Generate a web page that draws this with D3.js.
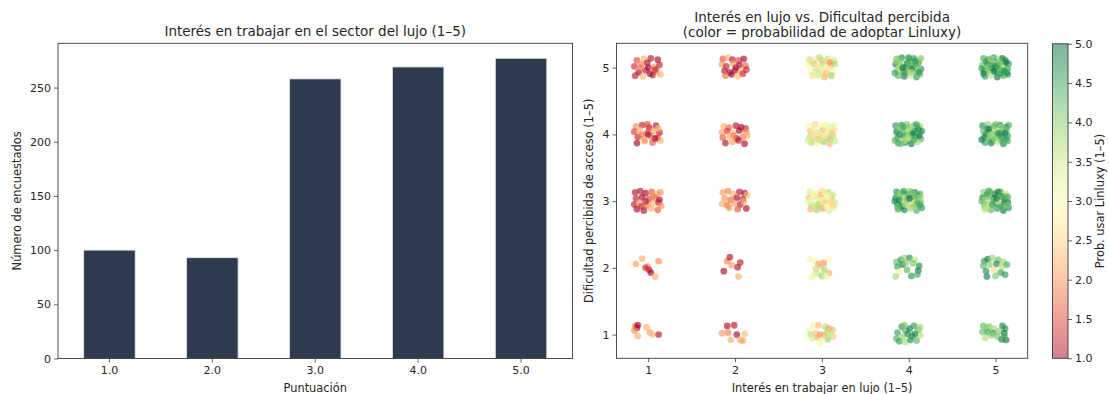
<!DOCTYPE html>
<html>
<head>
<meta charset="utf-8">
<script src="https://cdn.jsdelivr.net/npm/d3@7"></script>
<style>
  html, body { margin: 0; padding: 0; background: #fff; }
  svg { display: block; font-family: "DejaVu Sans", sans-serif; }
</style>
</head>
<body>
<svg id="chart" width="1109" height="394"></svg>
<script>
// Bar chart: respondents per interest score
const puntuaciones = ["1.0", "2.0", "3.0", "4.0", "5.0"];
const encuestados = [100, 93, 258, 269, 277];
const yTicksBar = [0, 50, 100, 150, 200, 250];

// Scatter: [interés (jittered), dificultad (jittered), probabilidad Linluxy]
const puntosInteres1 = [
  [.87,5.11,1.5],[.95,5.13,2.2],[1.03,5.14,1.1],[1.11,5.12,1.0],[.84,5.02,1.3],[.92,5.05,1.9],[.99,5.07,1.0],[1.07,5.01,2.0],[1.13,5.04,1.2],[.89,4.93,1.0],[.97,4.96,1.1],[1.02,4.91,1.0],[1.10,4.94,2.1],[.85,4.88,1.2],[.94,4.87,2.3],[1.05,4.89,1.1],[1.14,4.90,2.2],[1.00,5.00,1.0],[.91,5.00,1.8],[1.08,4.97,1.2],
  [.86,4.12,2.0],[.93,4.14,1.2],[1.01,4.10,1.0],[1.09,4.13,1.1],[.84,4.04,1.4],[.90,4.06,2.2],[.98,4.02,1.7],[1.06,4.05,2.1],[1.13,4.03,1.1],[.88,3.96,1.2],[.95,3.93,2.3],[1.03,3.97,1.9],[1.11,3.95,1.4],[.87,3.87,1.0],[.96,3.90,2.0],[1.05,3.88,1.6],[1.14,3.91,2.2],[1.00,4.00,1.0],[.92,3.99,1.8],[1.08,3.94,1.0],[.99,4.15,1.5],[1.12,4.09,2.3],
  [.85,3.13,1.1],[.91,3.15,1.1],[.97,3.12,1.0],[1.04,3.14,1.6],[1.10,3.11,2.2],[1.14,3.13,2.0],[.86,3.04,1.2],[.93,3.06,1.0],[1.01,3.03,1.4],[1.08,3.05,1.7],[1.13,3.02,1.0],[.84,2.95,1.1],[.90,2.97,2.1],[.99,2.94,1.8],[1.06,2.96,2.3],[1.12,2.98,1.2],[.87,2.88,1.0],[.95,2.86,1.0],[1.03,2.89,2.2],[1.11,2.87,1.6],[.97,3.00,1.1],[1.05,3.08,1.9],[.92,2.92,1.3],[1.15,2.93,2.0],
  [.86,2.06,2.1],[.93,2.14,2.2],[.99,2.02,1.9],[1.01,1.97,1.1],[1.03,1.93,1.0],[1.12,2.10,2.0],[1.08,1.87,2.2],[.97,2.00,1.3],
  [.85,1.13,1.9],[.87,1.10,1.0],[.88,1.14,1.0],[.98,1.11,2.2],[.88,0.98,2.2],[1.02,1.03,2.1],[1.05,1.00,2.3],[1.12,1.00,1.1],[.84,1.06,2.0]
];
const puntosInteres2 = [
  [1.86,5.13,1.6],[1.92,5.15,2.2],[1.97,5.12,1.1],[2.04,5.11,1.5],[2.10,5.13,1.0],[1.85,5.05,2.0],[1.90,5.02,1.2],[1.98,5.06,2.1],[2.05,5.04,1.0],[2.12,5.03,1.7],[1.88,4.95,1.1],[1.94,4.93,1.0],[2.00,4.96,1.0],[2.07,4.94,2.2],[2.13,4.97,1.2],[1.89,4.88,1.8],[1.96,4.90,1.0],[2.03,4.87,2.3],[2.09,4.91,1.3],[2.01,5.00,1.1],
  [1.87,4.12,2.2],[1.93,4.10,1.7],[2.01,4.13,1.1],[2.07,4.11,1.0],[2.12,4.09,1.2],[1.85,4.03,2.1],[1.91,4.05,1.4],[1.99,4.02,2.3],[2.05,4.06,1.0],[2.13,4.03,2.0],[1.86,3.95,1.6],[1.94,3.97,2.2],[2.02,3.94,1.0],[2.09,3.96,1.8],[1.89,3.87,1.1],[1.97,3.89,2.1],[2.04,3.91,1.2],[2.11,3.86,1.0],[2.14,3.98,2.2],[1.98,3.99,1.9],
  [1.86,3.13,2.1],[1.92,3.15,1.9],[1.98,3.11,2.2],[2.05,3.14,1.1],[2.11,3.12,1.0],[2.14,3.09,2.3],[1.88,3.04,2.0],[1.95,3.02,1.7],[2.02,3.05,1.0],[2.09,3.03,1.2],[1.85,2.96,2.2],[1.91,2.94,1.8],[1.99,2.97,2.1],[2.06,2.95,1.1],[2.13,2.89,1.0],[1.93,2.90,2.0],[2.03,2.88,1.6],[2.10,2.99,2.2],
  [1.91,2.10,1.9],[1.94,2.16,1.1],[1.96,2.04,2.1],[2.06,2.08,1.2],[1.87,1.95,1.0],[2.03,2.01,1.1],[2.04,1.87,2.2],
  [1.91,1.13,1.0],[1.99,1.14,1.1],[1.85,1.02,2.1],[1.95,0.92,2.2],[2.02,1.00,1.0],[2.06,0.92,2.2],[2.11,1.01,2.3],[2.09,0.91,2.1],[1.92,1.03,1.9]
];
const puntosInteres3 = [
  [2.86,5.12,2.4],[2.93,5.14,3.0],[3.00,5.11,2.2],[3.07,5.13,3.6],[3.13,5.10,3.9],[2.85,5.04,3.1],[2.91,5.06,2.1],[2.98,5.02,2.7],[3.04,5.05,3.3],[3.10,5.03,2.3],[3.15,5.06,3.7],[2.87,4.95,2.9],[2.94,4.97,3.8],[3.01,4.93,2.5],[3.08,4.96,3.4],[3.14,4.94,3.0],[2.89,4.88,2.6],[2.96,4.89,3.5],[3.03,4.86,2.2],[3.11,4.88,3.9],[2.99,5.00,3.2],[3.06,4.99,2.8],[2.92,4.91,3.3],[3.12,5.14,2.9],[2.97,5.15,3.7],[3.05,4.91,2.4],[2.88,5.09,3.4],[3.09,5.08,2.0],[3.01,5.07,3.6],[2.95,5.02,2.8],
  [2.85,4.13,3.0],[2.92,4.15,2.5],[2.99,4.12,3.1],[3.06,4.14,2.9],[3.12,4.11,3.4],[2.87,4.05,2.3],[2.94,4.03,3.5],[3.01,4.06,2.2],[3.08,4.04,3.0],[3.14,4.07,2.6],[2.86,3.96,3.7],[2.93,3.94,2.4],[3.00,3.97,3.3],[3.07,3.95,2.1],[3.13,3.98,3.6],[2.88,3.88,3.8],[2.95,3.87,2.9],[3.02,3.89,3.9],[3.09,3.86,2.3],[3.15,3.90,3.5],[2.97,4.01,2.7],[3.04,3.99,3.2],[2.90,4.09,2.8],[3.11,4.02,2.4],[2.96,3.92,3.6],[3.05,4.09,3.3],[2.89,3.99,2.6],[3.10,3.93,3.7],[3.03,4.15,3.0],[2.84,3.91,3.4],[3.14,4.14,3.1],[2.98,3.95,2.5],
  [2.86,3.14,3.4],[2.93,3.12,3.0],[3.00,3.15,2.6],[3.07,3.13,3.8],[3.13,3.11,2.9],[2.85,3.05,2.3],[2.91,3.07,3.6],[2.98,3.04,2.5],[3.05,3.06,3.1],[3.11,3.03,2.2],[2.88,2.96,3.7],[2.95,2.94,2.4],[3.02,2.97,3.3],[3.09,2.95,2.7],[3.15,2.98,3.5],[2.87,2.88,2.2],[2.94,2.87,3.9],[3.01,2.89,2.1],[3.08,2.86,3.4],[3.14,2.90,2.8],[2.97,3.01,3.2],[3.04,2.99,2.4],[2.90,3.10,2.9],[3.12,3.08,3.6],[2.99,3.10,2.3],[3.06,2.92,3.0],[2.92,2.92,3.5],[3.10,2.99,2.6],[2.84,3.00,3.3],[3.03,3.14,2.8],[2.96,2.95,3.7],[3.13,2.94,2.5],[2.89,3.02,3.1],[3.07,3.07,2.9],
  [2.86,2.13,3.1],[2.92,2.10,3.0],[3.08,2.13,3.0],[2.96,2.06,2.1],[3.02,2.07,2.0],[2.99,2.03,2.3],[2.93,1.98,3.6],[3.03,1.97,3.8],[3.08,1.92,2.2],[2.95,1.92,3.5],[3.00,1.88,3.9],[2.91,1.89,3.3],[3.05,1.87,3.1],[2.88,1.86,3.0],
  [2.85,1.05,3.1],[2.90,1.13,2.9],[2.96,1.14,2.3],[3.04,1.12,3.7],[3.08,1.09,2.1],[3.12,1.07,2.2],[2.87,1.00,3.6],[2.93,1.02,2.4],[2.98,1.00,2.0],[3.02,0.99,2.2],[3.06,1.03,3.8],[3.13,0.97,2.4],[2.89,0.94,3.4],[2.95,0.96,2.2],[3.00,0.91,3.1],[3.07,0.93,3.9],[2.97,0.88,3.0],[3.10,1.01,3.5]
];
const puntosInteres4 = [
  [3.86,5.13,4.2],[3.92,5.15,4.7],[3.99,5.12,3.9],[4.06,5.14,4.5],[4.12,5.11,3.7],[3.85,5.05,4.8],[3.91,5.03,3.6],[3.98,5.06,4.9],[4.05,5.04,4.1],[4.11,5.07,4.6],[3.87,4.96,4.0],[3.94,4.94,4.8],[4.01,4.97,3.8],[4.08,4.95,4.4],[4.14,4.98,4.7],[3.88,4.88,4.3],[3.95,4.87,4.9],[4.02,4.89,3.6],[4.09,4.86,4.6],[4.13,4.90,4.2],[3.97,5.01,4.5],[4.04,4.99,5.0],[3.90,5.09,4.1],[4.10,5.02,3.9],[3.96,4.92,4.4],[4.07,5.10,4.8],[3.89,4.99,3.7],[4.12,4.93,4.6],[4.01,5.08,4.3],[3.84,4.92,4.5],[4.14,5.14,4.0],[3.93,5.00,4.9],[4.03,4.93,3.8],[4.00,5.15,4.7],[3.86,5.10,3.9],[4.08,5.05,4.4],
  [3.85,4.13,4.6],[3.92,4.14,4.8],[3.99,4.11,3.8],[4.06,4.13,4.2],[4.13,4.12,3.9],[3.86,4.04,4.9],[3.93,4.06,4.4],[4.00,4.03,3.7],[4.07,4.05,4.7],[4.13,4.02,4.1],[3.87,3.95,4.5],[3.94,3.97,4.9],[4.01,3.94,3.9],[4.08,3.96,4.6],[4.14,3.93,4.3],[3.88,3.87,4.7],[3.96,3.88,4.8],[4.03,3.86,4.9],[4.10,3.89,3.8],[3.97,4.00,4.2],[4.04,3.99,4.5],[3.90,4.09,4.0],[4.11,4.08,4.8],[3.95,3.91,3.6],[4.06,3.92,4.4],[3.89,4.00,4.6],[4.12,3.98,4.9],[4.02,4.08,3.9],[3.84,3.91,4.3],[4.15,4.05,4.7],[3.98,4.15,4.1],[4.09,4.15,4.5],[3.91,3.86,4.2],[4.05,4.02,4.8],[3.99,3.95,3.7],[3.94,4.11,4.4],
  [3.86,3.14,4.7],[3.93,3.12,4.2],[4.00,3.15,3.8],[4.07,3.13,4.9],[4.13,3.11,4.4],[3.85,3.05,4.8],[3.91,3.07,3.9],[3.98,3.04,2.3],[4.05,3.06,4.6],[4.12,3.03,4.0],[3.87,2.96,4.9],[3.94,2.94,4.3],[4.01,2.97,3.7],[4.08,2.95,4.7],[4.14,2.98,4.1],[3.88,2.88,4.5],[3.95,2.87,4.8],[4.02,2.89,3.9],[4.09,2.86,4.4],[4.15,2.90,4.6],[3.97,3.01,4.2],[4.04,2.99,2.5],[3.90,3.10,4.0],[4.11,3.08,4.8],[3.99,3.10,4.5],[4.06,2.92,3.8],[3.92,2.92,4.9],[4.10,2.99,4.3],[3.84,3.00,4.7],[4.03,3.14,4.1],[3.96,2.95,3.6],[4.13,2.94,4.5],[3.89,3.02,4.8],[4.07,3.07,4.0],[3.94,3.15,4.6],[4.01,3.04,4.9],[4.14,3.06,3.7],[3.87,2.91,4.2],
  [3.86,2.09,4.2],[3.91,2.12,4.6],[3.95,2.15,3.9],[4.01,2.15,4.7],[4.07,2.12,3.6],[3.87,2.02,4.5],[3.93,2.05,4.8],[4.05,2.07,4.1],[4.12,2.03,4.7],[3.89,1.94,2.8],[3.98,1.97,4.3],[4.11,1.96,4.9],[3.85,1.87,3.8],[4.03,1.88,4.6],[4.10,1.90,4.4],[3.97,2.08,4.0],
  [3.87,1.03,4.5],[3.92,1.12,4.7],[3.96,1.06,4.3],[4.01,1.09,4.9],[4.06,1.13,4.6],[4.11,1.07,4.2],[3.86,0.94,4.4],[3.93,0.97,3.9],[3.99,1.01,4.8],[4.04,0.98,4.6],[4.13,0.99,3.7],[3.89,0.90,4.5],[3.96,0.89,3.8],[4.02,0.92,4.7],[4.09,0.91,4.3],[4.13,1.11,3.9],[3.95,1.14,4.1],[4.07,1.01,4.8]
];
const puntosInteres5 = [
  [4.86,5.14,4.4],[4.92,5.12,4.9],[4.98,5.15,4.6],[5.05,5.13,3.8],[5.11,5.11,4.7],[4.85,5.04,4.2],[4.91,5.06,4.8],[4.97,5.03,5.0],[5.04,5.05,4.5],[5.10,5.02,3.9],[5.15,5.06,4.6],[4.87,4.95,4.9],[4.93,4.97,4.1],[5.00,4.94,4.7],[5.07,4.96,4.4],[5.13,4.93,4.8],[4.88,4.87,4.6],[4.95,4.89,3.7],[5.02,4.86,4.9],[5.09,4.88,4.3],[5.14,4.90,4.7],[4.96,5.00,4.8],[5.03,4.99,4.2],[4.89,5.09,4.5],[5.12,5.08,4.9],[4.99,5.09,4.3],[5.06,4.91,4.6],[4.90,4.93,4.0],[5.08,5.14,4.8],[4.84,4.99,4.5],[5.01,5.02,4.7],[4.94,5.13,3.9],[5.14,4.98,4.4],[4.86,4.91,4.8],[5.05,5.08,4.1],[4.98,4.95,4.9],[5.10,4.95,4.6],[4.92,5.01,4.2],
  [4.85,4.13,4.7],[4.91,4.15,3.9],[4.98,4.12,4.5],[5.05,4.14,4.8],[5.12,4.11,4.9],[4.86,4.05,4.3],[4.93,4.03,4.6],[5.00,4.06,3.8],[5.07,4.04,4.7],[5.13,4.07,4.2],[4.87,3.96,4.8],[4.94,3.94,4.4],[5.01,3.97,4.0],[5.08,3.95,4.9],[5.14,3.98,4.5],[4.88,3.88,4.6],[4.95,3.87,4.9],[5.02,3.89,3.7],[5.09,3.86,4.8],[5.14,3.90,4.3],[4.97,4.00,4.1],[5.04,3.99,4.7],[4.90,4.09,4.4],[5.11,4.02,4.9],[4.96,3.91,4.5],[5.06,4.10,3.9],[4.89,4.00,4.7],[5.12,3.93,4.6],[5.00,4.15,4.2],[4.84,3.92,4.8],[5.15,4.14,4.4],[4.99,3.94,4.0],[4.92,4.08,4.9],[5.07,3.91,4.3],[5.03,4.02,4.6],[4.94,3.99,3.8],
  [4.86,3.13,4.0],[4.92,3.15,4.6],[4.99,3.12,3.8],[5.06,3.14,4.3],[5.12,3.11,2.4],[4.85,3.05,4.8],[4.91,3.07,4.2],[4.98,3.04,4.9],[5.05,3.06,3.9],[5.11,3.03,4.7],[4.87,2.96,4.4],[4.94,2.94,3.7],[5.01,2.97,4.8],[5.08,2.95,4.5],[5.14,2.98,4.9],[4.88,2.88,3.8],[4.95,2.87,4.3],[5.02,2.89,4.6],[5.09,2.86,4.9],[5.15,2.90,4.7],[4.97,3.01,4.1],[5.04,2.99,2.6],[4.90,3.10,4.5],[5.11,3.08,4.0],[4.99,3.10,4.8],[5.06,2.92,4.4],[4.92,2.92,3.6],[5.10,2.99,4.7],[4.84,3.00,4.2],[5.03,3.14,4.9],[4.96,2.95,4.5],[5.13,2.94,4.1],[4.89,3.02,3.9],[5.07,3.07,4.6],[4.94,3.14,4.3],[5.01,3.04,4.8],[5.14,3.06,4.4],[4.87,2.91,3.7],
  [4.87,2.10,4.6],[4.91,2.13,4.9],[4.96,2.15,3.9],[5.03,2.12,4.2],[5.09,2.09,3.8],[4.86,2.03,4.3],[4.93,2.05,4.0],[5.01,2.06,4.8],[5.07,2.02,3.7],[5.13,2.05,4.4],[4.89,1.95,4.7],[4.98,1.97,2.5],[5.06,1.93,4.5],[5.11,1.90,4.6],[4.90,1.87,4.8],[5.00,1.88,4.1],
  [4.86,1.13,4.3],[4.89,1.11,3.9],[4.93,1.12,4.0],[4.98,1.09,3.8],[5.08,1.13,4.8],[5.11,1.09,4.7],[4.85,1.04,4.2],[4.91,1.04,4.5],[4.97,1.02,4.6],[5.04,1.05,4.0],[5.10,1.02,4.9],[4.88,0.95,3.7],[5.02,0.97,4.1],[5.07,0.93,4.8],[5.12,0.92,4.9],[5.10,0.98,4.4],[4.95,0.99,3.9]
];
const ticksInteres = [1, 2, 3, 4, 5];
const ticksDificultad = [1, 2, 3, 4, 5];
const ticksProb = [1.0, 1.5, 2.0, 2.5, 3.0, 3.5, 4.0, 4.5, 5.0];

const svg = d3.select("#chart");
const ink = "#262626";
const spine = "#3a3a3a";
const fsTick = 11, fsLabel = 11.4, fsTitle = 13.5;

function styleAxis(g) {
  g.select(".domain").remove();
  g.selectAll(".tick line").attr("stroke", spine).attr("stroke-width", 0.8);
  g.selectAll(".tick text").attr("font-size", fsTick).attr("fill", ink)
    .attr("font-family", "DejaVu Sans, sans-serif");
}
function frame(x0, y0, x1, y1) {
  svg.append("rect").attr("x", x0).attr("y", y0).attr("width", x1 - x0).attr("height", y1 - y0)
    .attr("fill", "none").attr("stroke", spine).attr("stroke-width", 0.9);
}

// ---------- Left panel: bars ----------
const L = { x0: 58, x1: 572.5, y0: 43.3, y1: 358.5 };
const xBar = d3.scaleBand().domain(puntuaciones).range([L.x0, L.x1]).paddingInner(0.5).paddingOuter(0.25);
const yBar = d3.scaleLinear().domain([0, d3.max(encuestados) * 1.05]).range([L.y1, L.y0]);

svg.append("g").selectAll("rect").data(puntuaciones).join("rect")
  .attr("x", d => xBar(d))
  .attr("width", xBar.bandwidth())
  .attr("y", (d, i) => yBar(encuestados[i]))
  .attr("height", (d, i) => yBar(0) - yBar(encuestados[i]))
  .attr("fill", "#2e3b4f")
  .attr("stroke", "#dfe3e8").attr("stroke-width", 0.8);

svg.append("g").attr("transform", `translate(0,${L.y1})`)
  .call(d3.axisBottom(xBar).tickSize(4).tickPadding(4)).call(styleAxis);
svg.append("g").attr("transform", `translate(${L.x0},0)`)
  .call(d3.axisLeft(yBar).tickValues(yTicksBar).tickSize(4).tickPadding(3)).call(styleAxis);
frame(L.x0, L.y0, L.x1, L.y1);

svg.append("text").attr("x", (L.x0 + L.x1) / 2).attr("y", 36).attr("text-anchor", "middle")
  .attr("font-size", fsTitle).attr("fill", ink).text("Interés en trabajar en el sector del lujo (1–5)");
svg.append("text").attr("x", (L.x0 + L.x1) / 2).attr("y", 392).attr("text-anchor", "middle")
  .attr("font-size", fsLabel).attr("fill", ink).text("Puntuación");
svg.append("text").attr("transform", `translate(21,${(L.y0 + L.y1) / 2}) rotate(-90)`).attr("text-anchor", "middle")
  .attr("font-size", fsLabel).attr("fill", ink).text("Número de encuestados");

// ---------- Right panel: jittered scatter ----------
const R = { x0: 616.5, x1: 1027.7, y0: 43.3, y1: 358.3 };
const xSc = d3.scaleLinear().domain([0.635, 5.37]).range([R.x0, R.x1]);
const ySc = d3.scaleLinear().domain([0.645, 5.365]).range([R.y1, R.y0]);
const color = d3.scaleSequential(d3.interpolateRdYlGn).domain([1, 5]);

const puntos = [].concat(puntosInteres1, puntosInteres2, puntosInteres3, puntosInteres4, puntosInteres5);
svg.append("g").selectAll("circle").data(puntos).join("circle")
  .attr("cx", d => xSc(d[0]))
  .attr("cy", d => ySc(d[1]))
  .attr("r", 3.4)
  .attr("fill", d => color(d[2]))
  .attr("fill-opacity", 0.63)
  .attr("stroke", "#ffffff").attr("stroke-opacity", 0.3).attr("stroke-width", 0.3);

svg.append("g").attr("transform", `translate(0,${R.y1})`)
  .call(d3.axisBottom(xSc).tickValues(ticksInteres).tickFormat(d3.format("d")).tickSize(4).tickPadding(4)).call(styleAxis);
svg.append("g").attr("transform", `translate(${R.x0},0)`)
  .call(d3.axisLeft(ySc).tickValues(ticksDificultad).tickFormat(d3.format("d")).tickSize(4).tickPadding(3)).call(styleAxis);
frame(R.x0, R.y0, R.x1, R.y1);

const cx = (R.x0 + R.x1) / 2;
svg.append("text").attr("x", cx).attr("y", 22).attr("text-anchor", "middle")
  .attr("font-size", fsTitle).attr("fill", ink).text("Interés en lujo vs. Dificultad percibida");
svg.append("text").attr("x", cx).attr("y", 37).attr("text-anchor", "middle")
  .attr("font-size", fsTitle).attr("fill", ink).text("(color = probabilidad de adoptar Linluxy)");
svg.append("text").attr("x", cx).attr("y", 392).attr("text-anchor", "middle")
  .attr("font-size", fsLabel).attr("fill", ink).text("Interés en trabajar en lujo (1–5)");
svg.append("text").attr("transform", `translate(593,${(R.y0 + R.y1) / 2}) rotate(-90)`).attr("text-anchor", "middle")
  .attr("font-size", fsLabel).attr("fill", ink).text("Dificultad percibida de acceso (1–5)");

// ---------- Colorbar ----------
const C = { x0: 1052.5, x1: 1068, y0: 43.8, y1: 358.3 };
const yCb = d3.scaleLinear().domain([1, 5]).range([C.y1, C.y0]);
const grad = svg.append("defs").append("linearGradient").attr("id", "cbar")
  .attr("x1", 0).attr("y1", 1).attr("x2", 0).attr("y2", 0);
d3.range(0, 1.0001, 0.05).forEach(t => {
  grad.append("stop").attr("offset", t).attr("stop-color", d3.interpolateRdYlGn(t)).attr("stop-opacity", 0.5);
});
svg.append("rect").attr("x", C.x0).attr("y", C.y0).attr("width", C.x1 - C.x0).attr("height", C.y1 - C.y0)
  .attr("fill", "url(#cbar)");
svg.append("g").attr("transform", `translate(${C.x1},0)`)
  .call(d3.axisRight(yCb).tickValues(ticksProb).tickFormat(d3.format(".1f")).tickSize(4).tickPadding(3)).call(styleAxis);
frame(C.x0, C.y0, C.x1, C.y1);
svg.append("text").attr("transform", `translate(1104,${(C.y0 + C.y1) / 2}) rotate(-90)`).attr("text-anchor", "middle")
  .attr("font-size", fsLabel).attr("fill", ink).text("Prob. usar Linluxy (1–5)");
</script>
</body>
</html>
